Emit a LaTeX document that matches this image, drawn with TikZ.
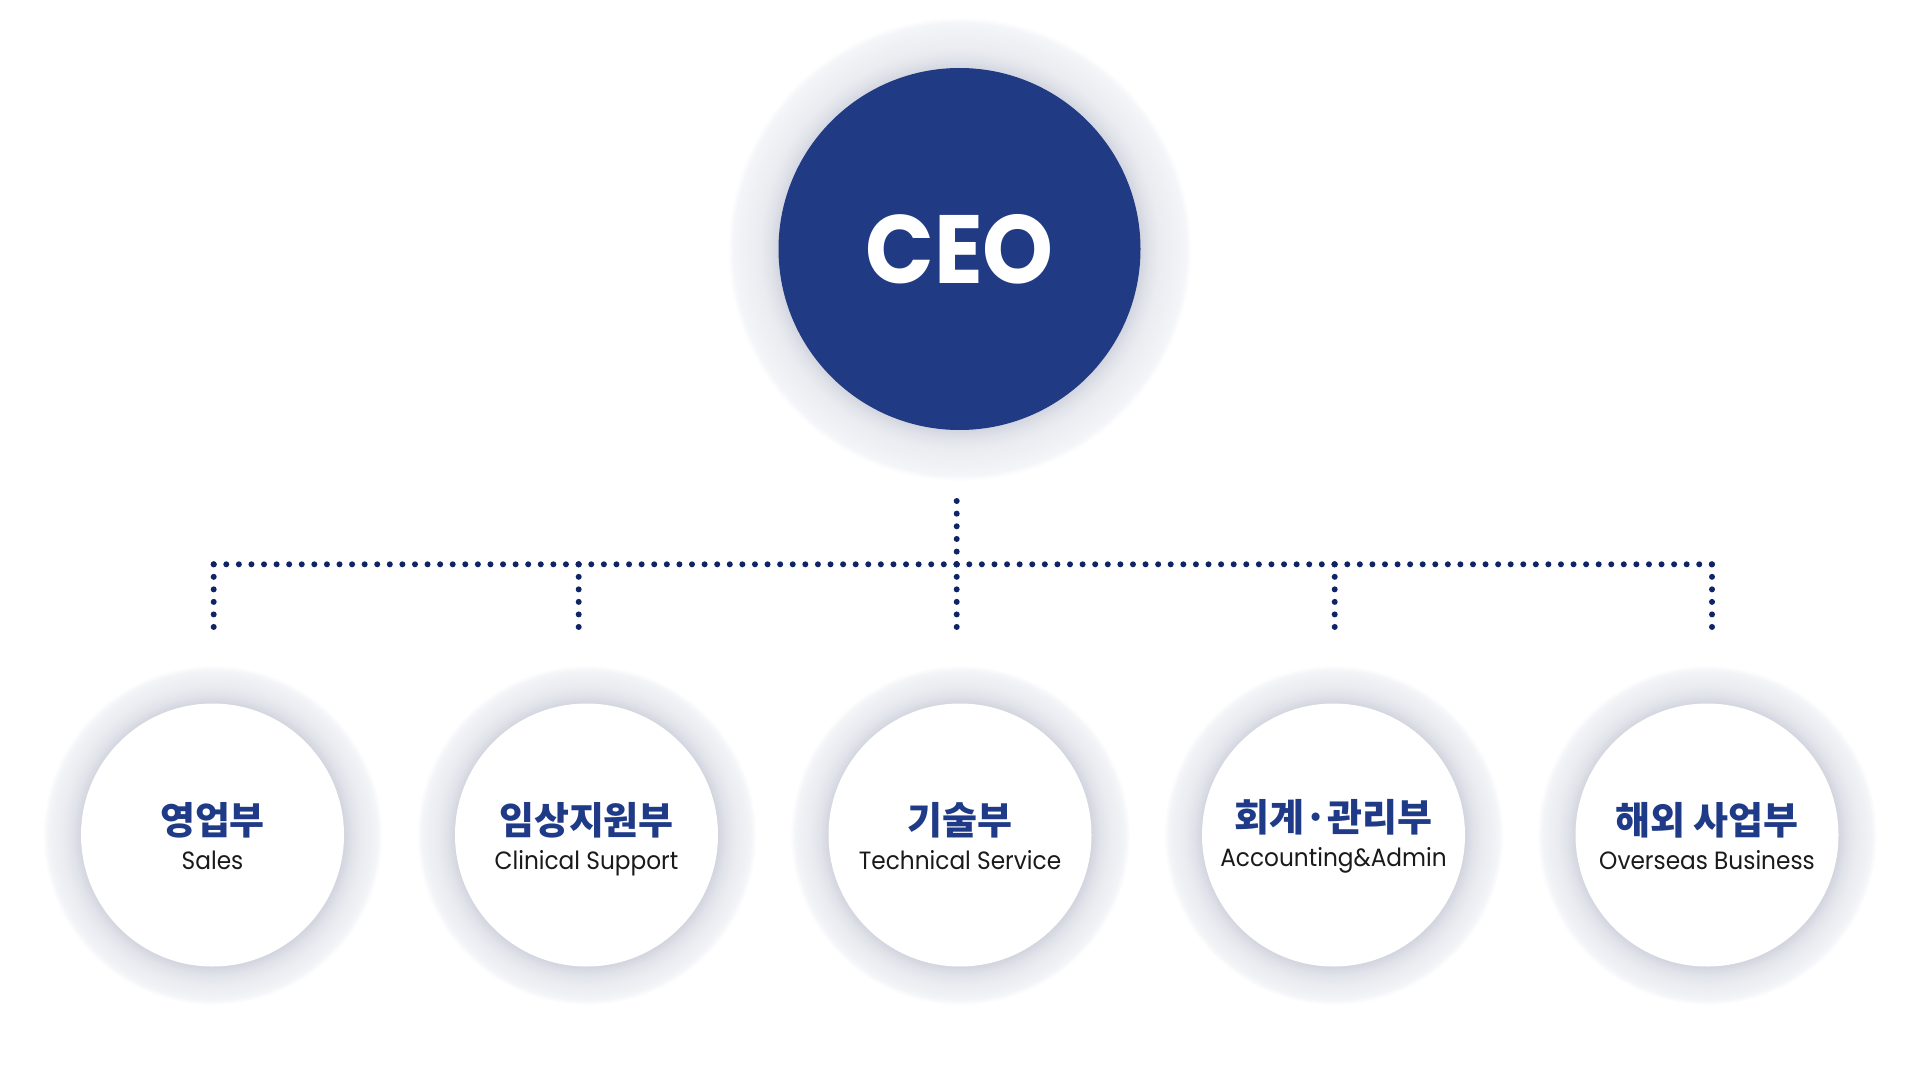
\documentclass[tikz,border=0pt]{standalone}
\usepackage{fontspec}
\newfontfamily\krfont{Noto Sans CJK KR}
\newfontfamily\enfont{Poppins}[FakeStretch=0.93]
\newfontfamily\ceofont{Poppins}[FakeStretch=0.93]
\definecolor{ceoblue}{HTML}{213A84}
\definecolor{dotblue}{HTML}{0E2466}
\definecolor{labelblue}{HTML}{1F3A87}
\definecolor{enblack}{HTML}{1A1A1A}
\definecolor{hA}{HTML}{D3D6DF}
\definecolor{hB}{HTML}{E0E3E9}
\definecolor{hC}{HTML}{EAECF1}
\definecolor{hD}{HTML}{F0F1F5}
\definecolor{hE}{HTML}{F4F5F8}
% radius of the shaded circle corresponds to 25bp
\pgfdeclareradialshading{ceohalo}{\pgfpoint{0bp}{0bp}}{color(0bp)=(hA); color(19.5bp)=(hA); color(20.47bp)=(hB); color(21.55bp)=(hC); color(23.17bp)=(hD); color(24.35bp)=(hE); color(25bp)=(white); color(50bp)=(white)}
\pgfdeclareradialshading{depthalo}{\pgfpoint{0bp}{0bp}}{color(0bp)=(hA); color(19.41bp)=(hA); color(20.59bp)=(hB); color(22.06bp)=(hC); color(23.53bp)=(hD); color(24.26bp)=(hE); color(25bp)=(white); color(50bp)=(white)}
\begin{document}
\begin{tikzpicture}[x=1pt,y=-1pt,
  ceocircle/.style={circle, fill=ceoblue, minimum size=362pt, inner sep=0pt, text=white,
    font=\ceofont\bfseries\fontsize{97}{97}\selectfont},
  deptcircle/.style={circle, fill=white, minimum size=263pt, inner sep=0pt},
  krlabel/.style={font=\krfont\bfseries\fontsize{38}{38}\selectfont, text=labelblue, anchor=base, inner sep=0pt},
  enlabel/.style={font=\enfont\fontsize{25}{25}\selectfont, text=enblack, anchor=base, inner sep=0pt},
  dotline/.style={draw=dotblue, line width=6pt, line cap=round, dash pattern=on 0pt off #1}]
\fill[white] (0,0) rectangle (1920,1070);
\useasboundingbox (0,0) rectangle (1920,1070);
% halos
\shade[shading=ceohalo] (959.5,249) circle[radius=232pt];
\foreach \cx in {212.5,586.5,960,1333.5,1707}{
  \shade[shading=depthalo] (\cx,835) circle[radius=170pt];
}
% nodes
\node[ceocircle] (ceo) at (959.5,249) {CEO};
\node[deptcircle] (sales) at (212.5,835) {};
\node[deptcircle] (clin) at (586.5,835) {};
\node[deptcircle] (tech) at (960,835) {};
\node[deptcircle] (acct) at (1333.5,835) {};
\node[deptcircle] (over) at (1707,835) {};
% labels
\node[krlabel] (salesKr) at (212.5,834) {영업부};
\node[enlabel] (salesEn) at (212.5,869) {Sales};
\node[krlabel] (clinKr) at (586.5,834) {임상지원부};
\node[enlabel] (clinEn) at (586.5,869) {Clinical Support};
\node[krlabel] (techKr) at (960,834) {기술부};
\node[enlabel] (techEn) at (960,869) {Technical Service};
\node[krlabel] (acctKr) at (1333.5,831) {회계·관리부};
\node[enlabel] (acctEn) at (1333.5,866) {Accounting\&Admin};
\node[krlabel] (overKr) at (1707,834) {해외 사업부};
\node[enlabel] (overEn) at (1707,869) {Overseas Business};
% connector points
\coordinate (tap) at (956.7,501);
\coordinate (hub) at (956.7,564.3);
\coordinate (j1) at (213.7,564.3);
\coordinate (j2) at (578.7,564.3);
\coordinate (j4) at (1334.7,564.3);
\coordinate (j5) at (1712,564.3);
\coordinate (d1) at (213.7,627);
\coordinate (d2) at (578.7,627);
\coordinate (d3) at (956.7,627);
\coordinate (d4) at (1334.7,627);
\coordinate (d5) at (1712,627);
% dotted connectors
\draw[dotline=12.65pt] (tap) -- (hub);
\draw[dotline=12.58pt] (j1) -- (j2);
\draw[dotline=12.59pt] (j2) -- (hub);
\draw[dotline=12.59pt] (hub) -- (j4);
\draw[dotline=12.57pt] (j4) -- (j5);
\foreach \a/\b in {j1/d1,j2/d2,hub/d3,j4/d4,j5/d5}{
  \draw[dotline=12.53pt] (\a) -- (\b);
}
\end{tikzpicture}
\end{document}
